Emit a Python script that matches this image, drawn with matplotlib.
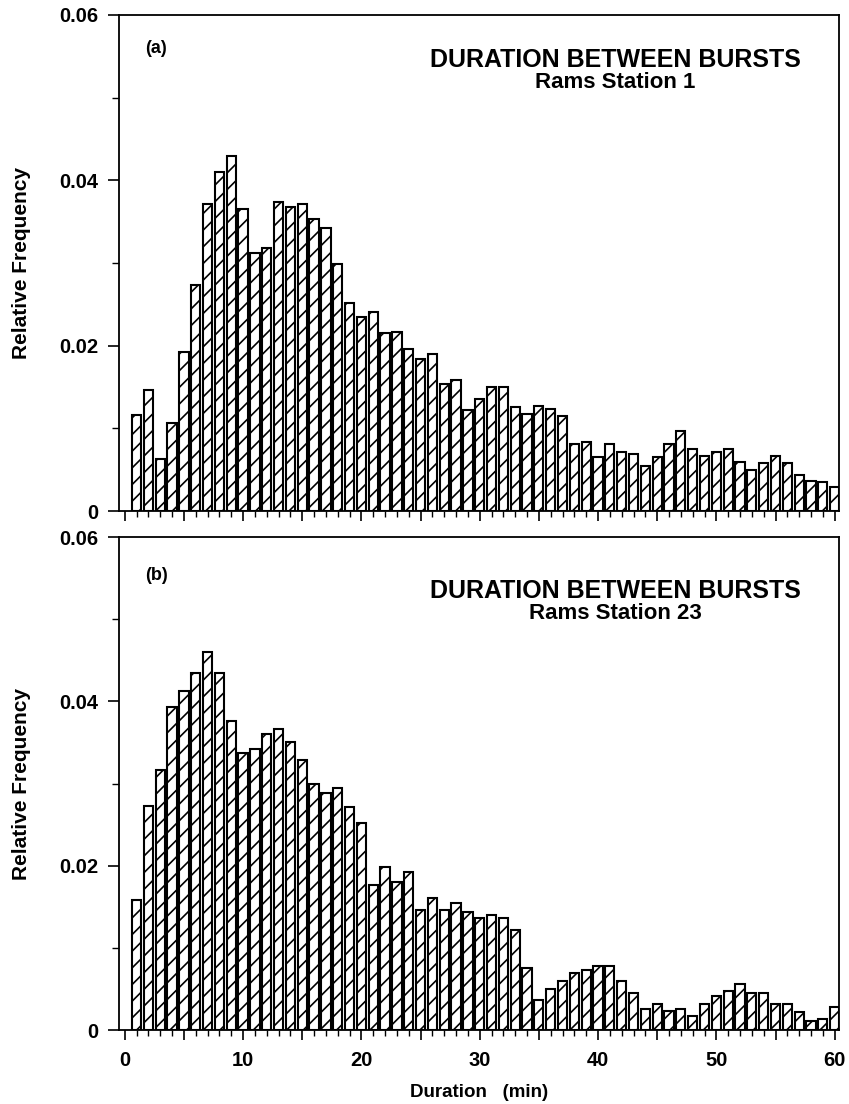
import numpy as np
import matplotlib
matplotlib.use('Agg')
import matplotlib.pyplot as plt

plt.rcParams['font.family'] = ['Liberation Sans', 'DejaVu Sans']
plt.rcParams['font.weight'] = 'bold'
plt.rcParams['hatch.linewidth'] = 1.2

# duration bins (min)
duration = np.arange(1, 61)

# relative frequency, Rams station 1
freq_st1 = [0.0116, 0.0146, 0.0063, 0.0106, 0.0193, 0.0273, 0.0371, 0.0410, 0.0430, 0.0365,
            0.0312, 0.0318, 0.0374, 0.0368, 0.0371, 0.0353, 0.0342, 0.0299, 0.0252, 0.0235,
            0.0241, 0.0215, 0.0217, 0.0196, 0.0184, 0.0190, 0.0154, 0.0158, 0.0122, 0.0135,
            0.0150, 0.0150, 0.0126, 0.0117, 0.0127, 0.0123, 0.0115, 0.0081, 0.0084, 0.0066,
            0.0081, 0.0072, 0.0069, 0.0054, 0.0066, 0.0081, 0.0097, 0.0075, 0.0067, 0.0072,
            0.0075, 0.0060, 0.0050, 0.0058, 0.0067, 0.0058, 0.0044, 0.0037, 0.0035, 0.0029]

# relative frequency, Rams station 23
freq_st23 = [0.0158, 0.0273, 0.0316, 0.0393, 0.0413, 0.0435, 0.0460, 0.0435, 0.0376, 0.0337,
             0.0342, 0.0360, 0.0366, 0.0350, 0.0329, 0.0299, 0.0289, 0.0295, 0.0271, 0.0252,
             0.0176, 0.0199, 0.0180, 0.0192, 0.0146, 0.0161, 0.0146, 0.0155, 0.0144, 0.0136,
             0.0140, 0.0136, 0.0122, 0.0075, 0.0037, 0.0050, 0.0060, 0.0070, 0.0073, 0.0078,
             0.0078, 0.0060, 0.0045, 0.0026, 0.0032, 0.0023, 0.0026, 0.0017, 0.0032, 0.0042,
             0.0048, 0.0056, 0.0045, 0.0045, 0.0032, 0.0032, 0.0022, 0.0011, 0.0014, 0.0028]

# tag, station, data, y of tag / title / subtitle (axes fraction)
panels = [('(a)', 'Rams Station 1', freq_st1, 0.933, 0.909, 0.863),
          ('(b)', 'Rams Station 23', freq_st23, 0.923, 0.890, 0.846)]

fig = plt.figure(figsize=(8.49, 11.04), dpi=100)
ax_a = fig.add_axes([0.140, 0.537, 0.848, 0.4495])
ax_b = fig.add_axes([0.140, 0.067, 0.848, 0.4465])

for ax, (tag, station, freq, y_tag, y_t, y_s) in zip([ax_a, ax_b], panels):
    ax.bar(duration, freq, width=0.78, color='white', edgecolor='black',
           linewidth=1.5, hatch='//')
    ax.set_xlim(-0.5, 60.35)
    ax.set_ylim(0, 0.06)
    ax.set_yticks([0, 0.02, 0.04, 0.06])
    ax.set_yticklabels(['0', '0.02', '0.04', '0.06'])
    ax.set_yticks([0.01, 0.03, 0.05], minor=True)
    ax.set_xticks(range(0, 61, 5))
    ax.set_xticks(range(0, 61), minor=True)
    ax.tick_params(axis='both', which='major', labelsize=14.5, width=1.2)
    ax.tick_params(axis='y', which='major', length=8, pad=7)
    ax.tick_params(axis='y', which='minor', length=5, width=1.0)
    ax.tick_params(axis='x', which='major', length=7, pad=8)
    ax.tick_params(axis='x', which='minor', length=4, width=1.0)
    for sp in ax.spines.values():
        sp.set_linewidth(1.3)
    ax.set_ylabel('Relative Frequency', fontsize=15, fontweight='bold', labelpad=20)
    ax.text(0.036, y_tag, tag, transform=ax.transAxes, fontsize=13, fontweight='bold',
            va='center')
    ax.text(0.69, y_t, 'DURATION BETWEEN BURSTS', transform=ax.transAxes,
            fontsize=18, fontweight='bold', ha='center', va='center')
    ax.text(0.69, y_s, station, transform=ax.transAxes,
            fontsize=16, fontweight='bold', ha='center', va='center')

ax_a.set_xticklabels([])
ax_b.set_xticklabels(['0', '', '10', '', '20', '', '30', '', '40', '', '50', '', '60'])
ax_b.set_xlabel('Duration   (min)', fontsize=13.5, fontweight='bold', labelpad=10)

fig.savefig('out.png', dpi=100)
